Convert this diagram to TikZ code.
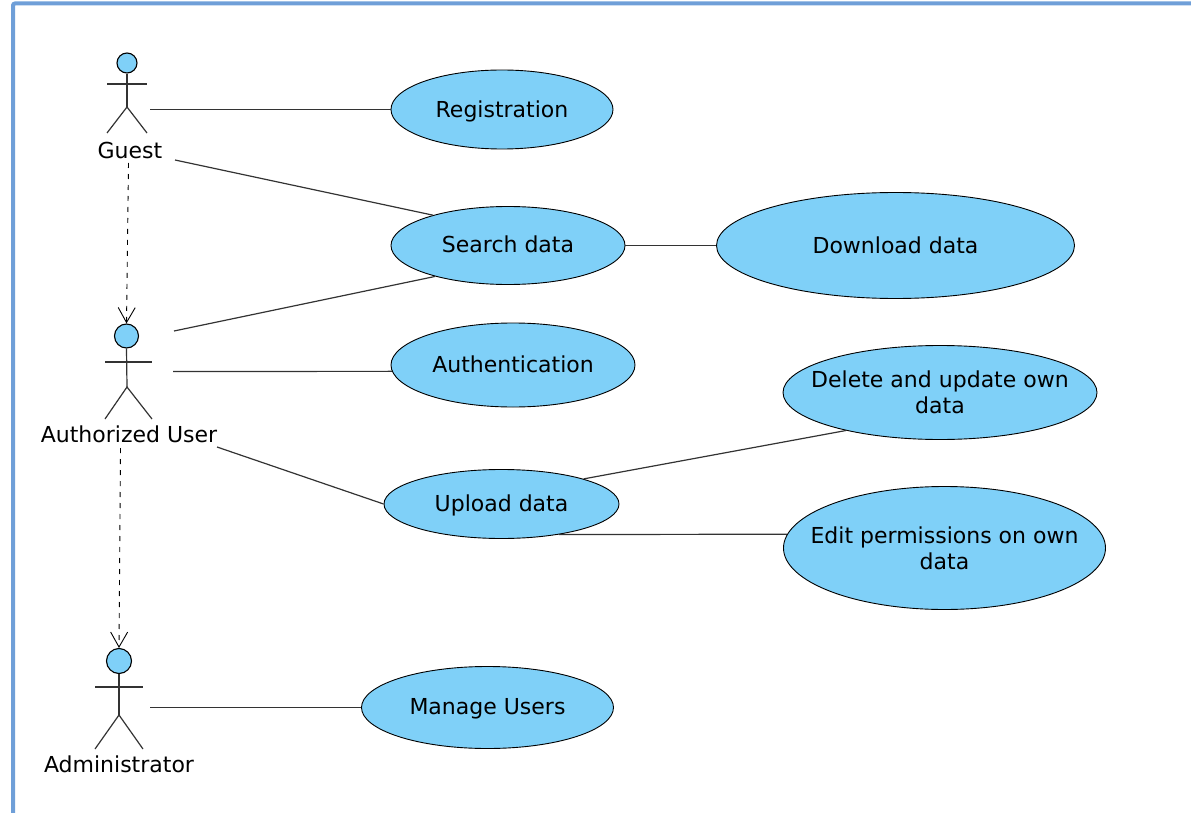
\documentclass[tikz,border=0pt]{standalone}
\usepackage{fontspec}
\setmainfont{DejaVu Sans}
\usetikzlibrary{shapes.geometric,arrows.meta}
\definecolor{usecasefill}{HTML}{7FD0F8}
\definecolor{framecolor}{HTML}{6F9FD8}
\definecolor{linecolor}{HTML}{333333}
\tikzset{
  usecase/.style={ellipse,draw=black,fill=usecasefill,line width=0.9pt,inner sep=0pt,align=center,font=\fontsize{22}{26}\selectfont},
  head/.style={circle,draw=black,fill=usecasefill,line width=1.1pt,inner sep=0pt},
  actorname/.style={inner sep=0pt,font=\fontsize{22}{26}\selectfont},
  limb/.style={linecolor,line width=1.2pt},
  assoc/.style={linecolor,line width=1.2pt},
  generalize/.style={black,line width=0.9pt,dashed,dash pattern=on 5pt off 6pt,-{Straight Barb[length=15pt,width=17pt,line width=0.9pt]}}
}
\begin{document}
\begin{tikzpicture}[x=1pt,y=-1pt]
\useasboundingbox (0,0) rectangle (1191,813);
\draw [framecolor,line width=4pt,rounded corners=2pt] (1191,3.5) -- (13,3.5) -- (13,813);
% use cases
\node [usecase,minimum width=222pt,minimum height=79pt,text depth=0pt] (registration) at (502,109.5) {Registration};
\node [usecase,minimum width=234pt,minimum height=78pt,text depth=2pt] (search) at (508,245.5) {Search data};
\node [usecase,minimum width=358pt,minimum height=106pt] (download) at (895.5,245.5) {Download data};
\node [usecase,minimum width=244pt,minimum height=84pt,text depth=2pt] (authentication) at (513,365) {Authentication};
\node [usecase,inner xsep=-25pt,minimum width=314pt,minimum height=94pt] (deleteown) at (940,392.5) {Delete and update own\\data};
\node [usecase,minimum width=235pt,minimum height=69pt,text depth=2.5pt] (upload) at (501.5,504) {Upload data};
\node [usecase,inner xsep=-25pt,minimum width=322pt,minimum height=123pt] (editown) at (944.5,548) {Edit permissions on own\\data};
\node [usecase,minimum width=252pt,minimum height=82pt,text depth=2.5pt] (manage) at (487.5,707.5) {Manage Users};
% guest
\node [head,minimum size=20pt] (guesthead) at (127,63) {};
\node [actorname] (guest) at (130,150) {Guest};
\draw [limb] (guesthead.south) -- (127,107);
\draw [limb] (107,84) -- (147,84);
\draw [limb] (107,133) -- (127,107) -- (147,133);
% authorized user
\node [head,minimum size=24pt] (userhead) at (126.5,336) {};
\node [actorname] (user) at (129,434) {Authorized User};
\draw [limb] (userhead.south) -- (127,387);
\draw [limb] (105,362) -- (152,362);
\draw [limb] (105,419) -- (127,387) -- (152,419);
% administrator
\node [head,minimum size=25pt] (adminhead) at (119,661) {};
\node [actorname] (admin) at (119,764) {Administrator};
\draw [limb] (adminhead.south) -- (119,715);
\draw [limb] (95,687) -- (143,687);
\draw [limb] (95,749) -- (119,715) -- (143,749);
% free ends beside the actors
\coordinate (guestA) at (150,109.5);
\coordinate (guestB) at (175,160);
\coordinate (guestC) at (128.5,163);
\coordinate (userA) at (174,331);
\coordinate (userB) at (173,371.5);
\coordinate (userC) at (217,447);
\coordinate (userD) at (120.5,448);
\coordinate (adminA) at (150,707.5);
% associations
\draw [assoc] (guestA) -- (registration.west);
\draw [assoc] (guestB) -- (search.158);
\draw [assoc] (userA) -- (search.203);
\draw [assoc] (search.east) -- (download.west);
\draw [assoc] (userB) -- (authentication.183);
\draw [assoc] (userC) -- (upload.west);
\draw [assoc] (upload.17) -- (deleteown.202);
\draw [assoc] (upload.-28) -- (editown.175);
\draw [assoc] (adminA) -- (manage.west);
% generalizations
\draw [generalize] (guestC) -- (userhead.north);
\draw [generalize] (userD) -- (adminhead.north);
\end{tikzpicture}
\end{document}
